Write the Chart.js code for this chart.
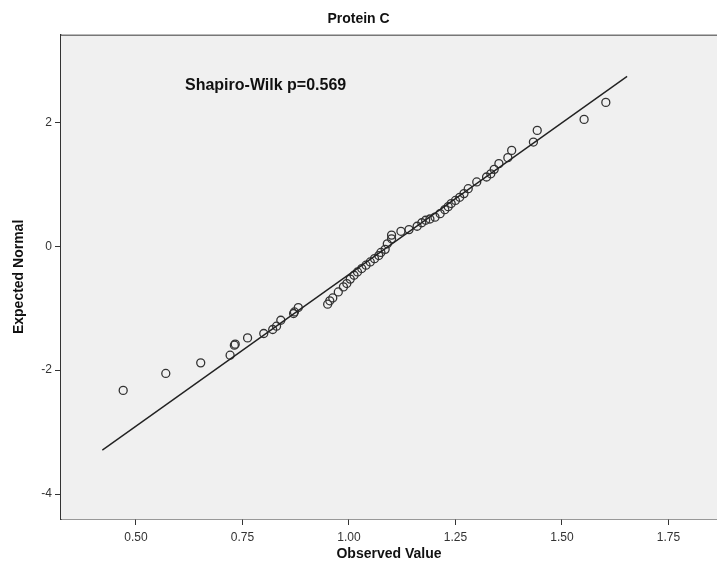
<!DOCTYPE html>
<html>
<head>
<meta charset="utf-8">
<title>Protein C</title>
<script src="https://cdn.jsdelivr.net/npm/chart.js@4/dist/chart.umd.min.js"></script>
<style>
  body { margin: 0; background: #fff; }
  #wrap { width: 717px; height: 574px; }
</style>
</head>
<body>
<div id="wrap"><canvas id="qq" width="717" height="574"></canvas></div>
<script>
// observed values and their expected normal scores
const observed = [
  0.470, 0.570, 0.652, 0.721, 0.731, 0.733, 0.762, 0.800, 0.821, 0.830,
  0.840, 0.870, 0.872, 0.881, 0.950, 0.955, 0.962, 0.975, 0.987, 0.995,
  1.003, 1.012, 1.020, 1.030, 1.040, 1.050, 1.060, 1.070, 1.075, 1.085,
  1.090, 1.100, 1.100, 1.122, 1.141, 1.160, 1.171, 1.180, 1.190, 1.202,
  1.214, 1.225, 1.233, 1.240, 1.250, 1.260, 1.270, 1.280, 1.300, 1.323,
  1.333, 1.341, 1.352, 1.373, 1.382, 1.433, 1.442, 1.552, 1.603
];
const expected = [
  -2.327, -2.053, -1.882, -1.758, -1.597, -1.580, -1.479, -1.408, -1.344, -1.290,
  -1.194, -1.085, -1.060, -0.989, -0.935, -0.880, -0.834, -0.737, -0.656, -0.602,
  -0.530, -0.468, -0.414, -0.360, -0.306, -0.253, -0.200, -0.150, -0.100, -0.050,
   0.040,  0.120,  0.180,  0.242,  0.269,  0.323,  0.380,  0.420,  0.440,  0.470,
   0.527,  0.591,  0.640,  0.690,  0.740,  0.790,  0.850,  0.930,  1.038,  1.118,
   1.170,  1.242,  1.334,  1.431,  1.548,  1.682,  1.871,  2.048,  2.323
];

// reference line end points
const refLineX = [0.421, 1.653];
const refLineY = [-3.29, 2.742];

const xTicks = [0.50, 0.75, 1.00, 1.25, 1.50, 1.75];
const yTicks = [-4, -2, 0, 2];
const swLabel = 'Shapiro-Wilk p=0.569';

const points = observed.map((v, i) => ({ x: v, y: expected[i] }));
const refLine = refLineX.map((v, i) => ({ x: v, y: refLineY[i] }));

const FONT = "'Liberation Sans', Arial, sans-serif";

// grey plot area, top border and the test label
const plotFrame = {
  id: 'plotFrame',
  beforeDatasetsDraw(chart) {
    const { ctx, chartArea: a } = chart;
    ctx.save();
    ctx.fillStyle = '#f0f0f0';
    ctx.fillRect(a.left, a.top, a.right - a.left, a.bottom - a.top);
    ctx.strokeStyle = '#777';
    ctx.lineWidth = 1.5;
    ctx.beginPath();
    ctx.moveTo(a.left, a.top + 0.5);
    ctx.lineTo(a.right, a.top + 0.5);
    ctx.stroke();
    ctx.restore();
  },
  afterDatasetsDraw(chart) {
    const { ctx, chartArea: a } = chart;
    ctx.save();
    ctx.fillStyle = '#111';
    ctx.font = 'bold 16px ' + FONT;
    ctx.textBaseline = 'middle';
    ctx.fillText(swLabel, a.left + 124, a.top + 51);
    ctx.restore();
  }
};

new Chart(document.getElementById('qq'), {
  type: 'scatter',
  data: {
    datasets: [
      {
        type: 'line',
        data: refLine,
        borderColor: '#222',
        borderWidth: 1.4,
        pointRadius: 0,
        fill: false
      },
      {
        data: points,
        pointStyle: 'circle',
        pointRadius: 4,
        pointBorderWidth: 1.3,
        borderColor: '#333',
        backgroundColor: 'rgba(0,0,0,0)'
      }
    ]
  },
  options: {
    responsive: false,
    animation: false,
    devicePixelRatio: 1,
    // the plot runs right up to the canvas edge
    layout: { autoPadding: false, padding: { left: 0, right: 0, top: 0, bottom: 0 } },
    plugins: {
      legend: { display: false },
      tooltip: { enabled: false },
      title: {
        display: true,
        text: 'Protein C',
        color: '#111',
        font: { family: FONT, size: 14, weight: 'bold' },
        padding: { top: 11, bottom: 7 }
      }
    },
    scales: {
      x: {
        type: 'linear',
        min: 0.324,
        max: 1.864,
        afterBuildTicks: s => { s.ticks = xTicks.map(v => ({ value: v })); },
        afterFit: s => { s.height = 55; s.paddingLeft = 0; s.paddingRight = 0; },
        grid: { drawOnChartArea: false, drawTicks: true, tickLength: 6, color: '#333' },
        border: { display: true, color: '#333', width: 1.5 },
        ticks: {
          padding: 5,
          color: '#333',
          font: { family: FONT, size: 12 },
          callback: v => Number(v).toFixed(2)
        },
        title: {
          display: true,
          text: 'Observed Value',
          color: '#111',
          font: { family: FONT, size: 14, weight: 'bold' },
          padding: { top: 0, bottom: 11 }
        }
      },
      y: {
        type: 'linear',
        min: -4.403,
        max: 3.414,
        afterBuildTicks: s => { s.ticks = yTicks.map(v => ({ value: v })); },
        afterFit: s => { s.width = 61; s.paddingTop = 0; s.paddingBottom = 0; },
        grid: { drawOnChartArea: false, drawTicks: true, tickLength: 6, color: '#333' },
        border: { display: true, color: '#333', width: 1.5 },
        ticks: {
          padding: 3,
          color: '#333',
          font: { family: FONT, size: 12 },
          callback: v => String(v)
        },
        title: {
          display: true,
          text: 'Expected Normal',
          color: '#111',
          font: { family: FONT, size: 14, weight: 'bold' },
          padding: { top: 11, bottom: 0 }
        }
      }
    }
  },
  plugins: [plotFrame]
});
</script>
</body>
</html>
